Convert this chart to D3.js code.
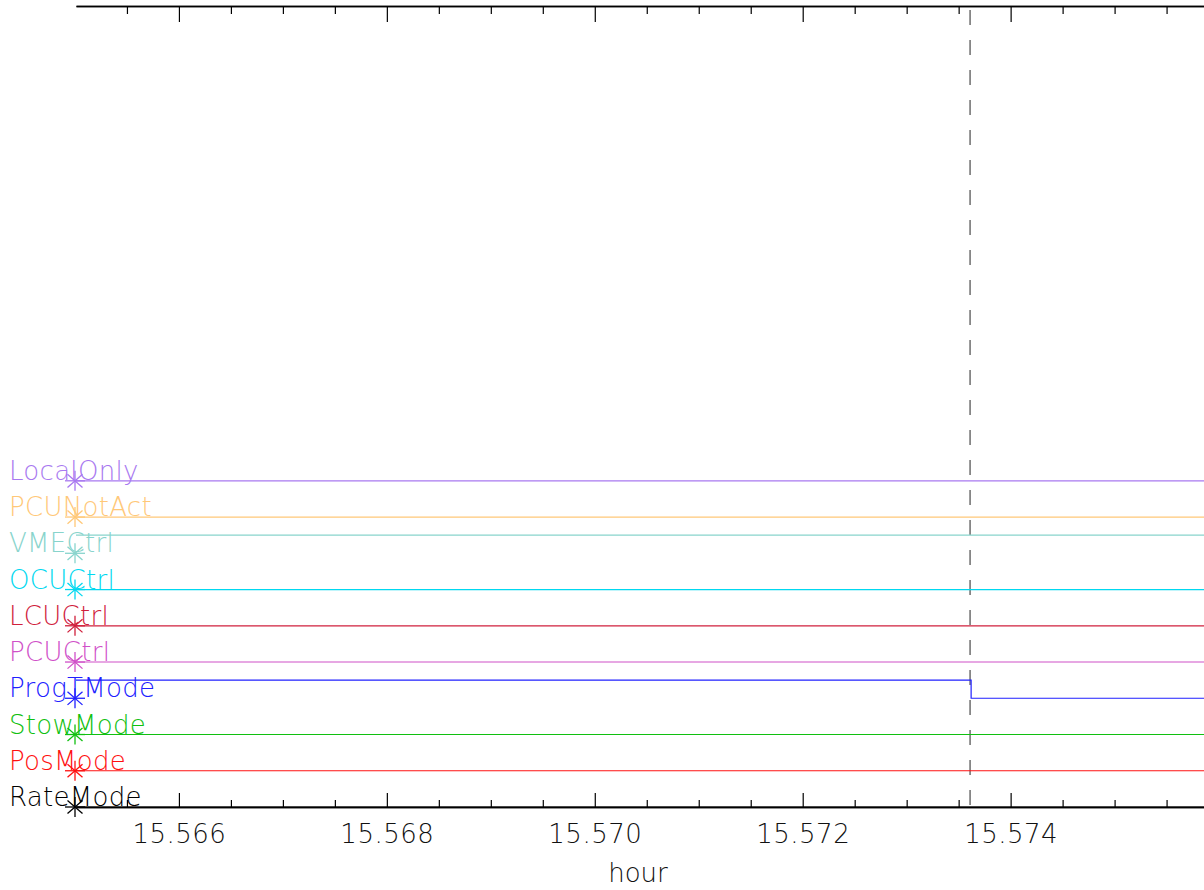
<!DOCTYPE html>
<html><head><meta charset="utf-8">
<script src="https://cdn.jsdelivr.net/npm/d3@7/dist/d3.min.js"></script>
<style>
html,body{margin:0;padding:0;background:#fff;}
svg{display:block;}
text{font-family:"DejaVu Sans","Liberation Sans",sans-serif;}
</style></head>
<body><svg id="c" width="1204" height="890"></svg>
<script>
// ---- data ----
const channels = ["RateMode","PosMode","StowMode","ProgTMode","PCUCtrl","LCUCtrl","OCUCtrl","VMECtrl","PCUNotAct","LocalOnly"];
const colors   = ["#000000","#ff1010","#10c010","#2020ff","#d050c8","#d0203c","#00d8f0","#88d4cc","#ffc878","#a878f0"];
const times    = [15.56501, 15.57362, 15.57586];
const RateMode  = [0,0,0];
const PosMode   = [0,0,0];
const StowMode  = [0,0,0];
const ProgTMode = [1,0,0];
const PCUCtrl   = [0,0,0];
const LCUCtrl   = [0,0,0];
const OCUCtrl   = [0,0,0];
const VMECtrl   = [1,1,1];
const PCUNotAct = [0,0,0];
const LocalOnly = [0,0,0];
const series = [RateMode,PosMode,StowMode,ProgTMode,PCUCtrl,LCUCtrl,OCUCtrl,VMECtrl,PCUNotAct,LocalOnly];
const markerTime = 15.57361;
const majorTicks = [15.566,15.568,15.570,15.572,15.574];
const minorTicks = [15.5655,15.5665,15.5670,15.5675,15.5685,15.5690,15.5695,15.5705,15.5710,15.5715,15.5725,15.5730,15.5735,15.5745,15.5750,15.5755];
const xLabel = "hour";

// ---- scales ----
const L = 76, R = 1204, T = 6, B = 807;
const x = d3.scaleLinear().domain([15.56501, 15.57586]).range([L, R]);
const y = d3.scaleLinear().domain([0, 22.1]).range([B, T]);
const svg = d3.select("#c");

// dashed marker
svg.append("line")
  .attr("x1", x(markerTime)).attr("x2", x(markerTime))
  .attr("y1", T).attr("y2", B)
  .attr("stroke", "#777").attr("stroke-width", 1.6)
  .attr("stroke-dasharray", "15,15").attr("stroke-dashoffset", 26);

// series lines
const line = d3.line().curve(d3.curveStepAfter);
series.forEach((s, i) => {
  const pts = s.map((v, k) => [x(times[k]), y(i + 0.5 * v)]);
  svg.append("path").attr("d", line(pts))
    .attr("fill", "none").attr("stroke", colors[i]).attr("stroke-width", 1.2);
});

// axes
function styleAxis(g){
  g.select(".domain").attr("stroke", "#000").attr("stroke-width", 1.6);
  g.selectAll(".tick line").attr("stroke", "#000").attr("stroke-width", 1.2);
}
const bottomMajor = svg.append("g").attr("transform", `translate(0,${B})`)
  .call(d3.axisBottom(x).tickValues(majorTicks).tickSizeInner(-14).tickSizeOuter(0).tickPadding(18).tickFormat(d3.format(".3f")));
styleAxis(bottomMajor);
bottomMajor.selectAll(".tick text").attr("font-size", 26).attr("fill", "#111")
  .attr("font-family", "DejaVu Sans, sans-serif").attr("font-weight", 200).attr("letter-spacing", 0.5);
const bottomMinor = svg.append("g").attr("transform", `translate(0,${B})`)
  .call(d3.axisBottom(x).tickValues(minorTicks).tickSizeInner(-7).tickSizeOuter(0).tickFormat(""));
styleAxis(bottomMinor);
const topMajor = svg.append("g").attr("transform", `translate(0,${T})`)
  .call(d3.axisTop(x).tickValues(majorTicks).tickSizeInner(-16).tickSizeOuter(0).tickFormat(""));
styleAxis(topMajor);
const topMinor = svg.append("g").attr("transform", `translate(0,${T})`)
  .call(d3.axisTop(x).tickValues(minorTicks).tickSizeInner(-8).tickSizeOuter(0).tickFormat(""));
styleAxis(topMinor);

// x label
svg.append("text").attr("x", 638).attr("y", 882).attr("text-anchor", "middle")
  .attr("font-size", 26).attr("font-weight", 200).attr("fill", "#111").text(xLabel);

// channel labels and asterisk markers
channels.forEach((name, i) => {
  const yy = y(i);
  svg.append("text").attr("x", 9).attr("y", yy - 1)
    .attr("font-size", 26).attr("font-weight", 200).attr("fill", colors[i]).attr("letter-spacing", 0.3).text(name);
  const cx = x(times[0]) - 1, r = 10;
  const g = svg.append("g").attr("stroke", colors[i]).attr("stroke-width", 1.3);
  [[0, r], [r, 0], [r * 0.75, r * 0.66], [r * 0.75, -r * 0.66]].forEach(([dx, dy]) => {
    g.append("line").attr("x1", cx - dx).attr("y1", yy - dy).attr("x2", cx + dx).attr("y2", yy + dy);
  });
});
</script></body></html>
